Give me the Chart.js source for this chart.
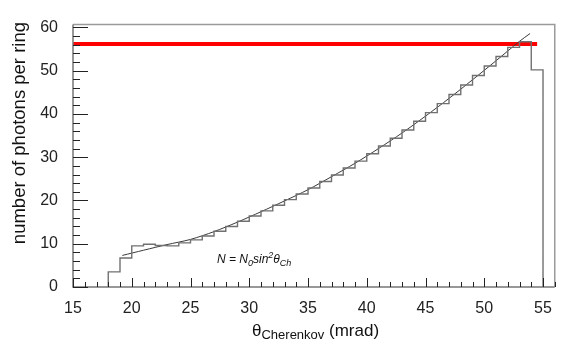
<!DOCTYPE html>
<html>
<head>
<meta charset="utf-8">
<script src="https://cdn.jsdelivr.net/npm/chart.js@4/dist/chart.umd.min.js"></script>
<style>
  html, body { margin: 0; padding: 0; background: #ffffff; }
  canvas { display: block; }
</style>
</head>
<body>
<canvas id="c" width="564" height="347"></canvas>
<script>
// Photon yield per ring versus Cherenkov angle (1 mrad bins)
const binLowEdges = [18, 19, 20, 21, 22, 23, 24, 25, 26, 27, 28, 29, 30, 31, 32, 33, 34, 35, 36,
                     37, 38, 39, 40, 41, 42, 43, 44, 45, 46, 47, 48, 49, 50, 51, 52, 53, 54];
const photonCounts = [3.5, 6.7, 9.5, 9.9, 9.6, 9.5, 10.2, 10.9, 11.8, 12.9, 14.0, 15.2, 16.4, 17.6,
                      18.9, 20.2, 21.5, 22.9, 24.4, 25.9, 27.5, 29.1, 30.8, 32.6, 34.4, 36.3, 38.3,
                      40.3, 42.4, 44.5, 46.7, 48.9, 51.1, 53.3, 55.4, 56.7, 50.2];
const binWidth = 1;

// Fitted curve N = N0 sin^2(theta)
const fitTheta = [19.2, 21, 23, 25, 27, 29, 31, 33, 35, 37, 39, 41, 43, 45, 47, 49, 51, 53, 53.9];
const fitN     = [7.3, 8.5, 9.8, 11.0, 12.8, 15.0, 17.4, 19.9, 22.5, 25.5, 28.6, 32.0, 35.6,
                  39.5, 43.6, 47.9, 52.3, 56.8, 58.6];

// Maximum photon level
const maxLevel = 56.2;
const maxLevelRange = [15, 54.5];

// Axis ticks
const xTickLabels = [15, 20, 25, 30, 35, 40, 45, 50, 55];
const yTickLabels = [0, 10, 20, 30, 40, 50, 60];

// Build stepped outline of the histogram (horizontal run, then vertical edge)
const histPoints = [{ x: binLowEdges[0], y: 0 }];
binLowEdges.forEach((lo, i) => {
  histPoints.push({ x: lo, y: photonCounts[i] });
  histPoints.push({ x: lo + binWidth, y: photonCounts[i] });
});
histPoints.push({ x: binLowEdges[binLowEdges.length - 1] + binWidth, y: 0 });

const fitPoints = fitTheta.map((t, i) => ({ x: t, y: fitN[i] }));
const levelPoints = maxLevelRange.map(t => ({ x: t, y: maxLevel }));

const FONT = "'Liberation Sans', Arial, Helvetica, sans-serif";

// Inward ticks, frame and text decorations
const decorations = {
  id: 'decorations',
  afterDatasetsDraw(chart) {
    const { ctx, chartArea: a, scales: { x, y } } = chart;
    ctx.save();
    // frame
    ctx.lineWidth = 1.5;
    ctx.strokeStyle = '#9a9a9a';
    ctx.beginPath();
    ctx.moveTo(a.left, a.top); ctx.lineTo(a.right, a.top); ctx.lineTo(a.right, a.bottom);
    ctx.stroke();
    ctx.strokeStyle = '#777777';
    ctx.beginPath();
    ctx.moveTo(a.left, a.top); ctx.lineTo(a.left, a.bottom); ctx.lineTo(a.right, a.bottom);
    ctx.stroke();

    // x ticks every 1 mrad, major every 5
    ctx.lineWidth = 1;
    ctx.strokeStyle = '#222222';
    for (let v = 15; v <= 56; v++) {
      const px = Math.round(x.getPixelForValue(v)) + 0.5;
      const len = v % 5 === 0 ? 9 : 5;
      ctx.beginPath();
      ctx.moveTo(px, a.bottom); ctx.lineTo(px, a.bottom - len);
      ctx.stroke();
    }
    // y ticks every 2, major every 10
    for (let v = 0; v <= 60; v += 2) {
      const py = Math.round(y.getPixelForValue(v)) + 0.5;
      const len = v % 10 === 0 ? 15 : 7;
      ctx.beginPath();
      ctx.moveTo(a.left, py); ctx.lineTo(a.left + len, py);
      ctx.stroke();
    }

    // x axis title with subscript
    ctx.fillStyle = '#111111';
    ctx.textBaseline = 'alphabetic';
    ctx.textAlign = 'left';
    let tx = 252, ty = 336;
    ctx.font = '17px ' + FONT;
    ctx.fillText('θ', tx, ty);
    tx += ctx.measureText('θ').width;
    ctx.font = '13px ' + FONT;
    ctx.fillText('Cherenkov', tx, ty + 3);
    tx += ctx.measureText('Cherenkov').width;
    ctx.font = '17px ' + FONT;
    ctx.fillText(' (mrad)', tx, ty);

    // y axis title
    ctx.save();
    ctx.translate(25, 22);
    ctx.rotate(-Math.PI / 2);
    ctx.textAlign = 'right';
    ctx.font = '18.5px ' + FONT;
    ctx.fillText('number of photons per ring', 0, 0);
    ctx.restore();

    // fit formula
    let fx = 217, fy = 263;
    const put = (txt, size, dy) => {
      ctx.font = 'italic ' + size + 'px ' + FONT;
      ctx.fillText(txt, fx, fy + dy);
      fx += ctx.measureText(txt).width;
    };
    put('N = N', 12, 0);
    put('0', 9, 3);
    put('sin', 12, 0);
    put('2', 9, -5);
    put('θ', 12, 0);
    put('Ch', 9, 3);
    ctx.restore();
  }
};

new Chart(document.getElementById('c'), {
  type: 'line',
  data: {
    datasets: [
      {
        label: 'histogram',
        data: histPoints,
        borderColor: '#707070',
        borderWidth: 1.4,
        pointRadius: 0,
        fill: false
      },
      {
        label: 'fit',
        data: fitPoints,
        borderColor: '#3a3a3a',
        borderWidth: 1,
        pointRadius: 0,
        tension: 0.3,
        fill: false
      },
      {
        label: 'max',
        data: levelPoints,
        borderColor: '#ff0000',
        borderWidth: 4,
        pointRadius: 0,
        fill: false
      }
    ]
  },
  options: {
    responsive: false,
    animation: false,
    devicePixelRatio: 1,
    layout: { padding: { top: 12, right: 3.5, left: 0, bottom: 0 } },
    plugins: { legend: { display: false }, tooltip: { enabled: false } },
    scales: {
      x: {
        type: 'linear',
        min: 15,
        max: 56,
        grid: { display: false, drawTicks: false },
        border: { display: false },
        afterBuildTicks: s => { s.ticks = xTickLabels.map(v => ({ value: v })); },
        afterFit: s => { s.height = 60; },
        ticks: {
          autoSkip: false,
          maxRotation: 0,
          padding: 12,
          color: '#222222',
          font: { family: FONT, size: 16 }
        }
      },
      y: {
        type: 'linear',
        min: 0,
        max: 60.66,
        grid: { display: false, drawTicks: false },
        border: { display: false },
        afterBuildTicks: s => { s.ticks = yTickLabels.map(v => ({ value: v })); },
        afterFit: s => { s.width = 73; },
        ticks: {
          padding: 15,
          color: '#222222',
          font: { family: FONT, size: 16 }
        }
      }
    }
  },
  plugins: [decorations]
});
</script>
</body>
</html>
